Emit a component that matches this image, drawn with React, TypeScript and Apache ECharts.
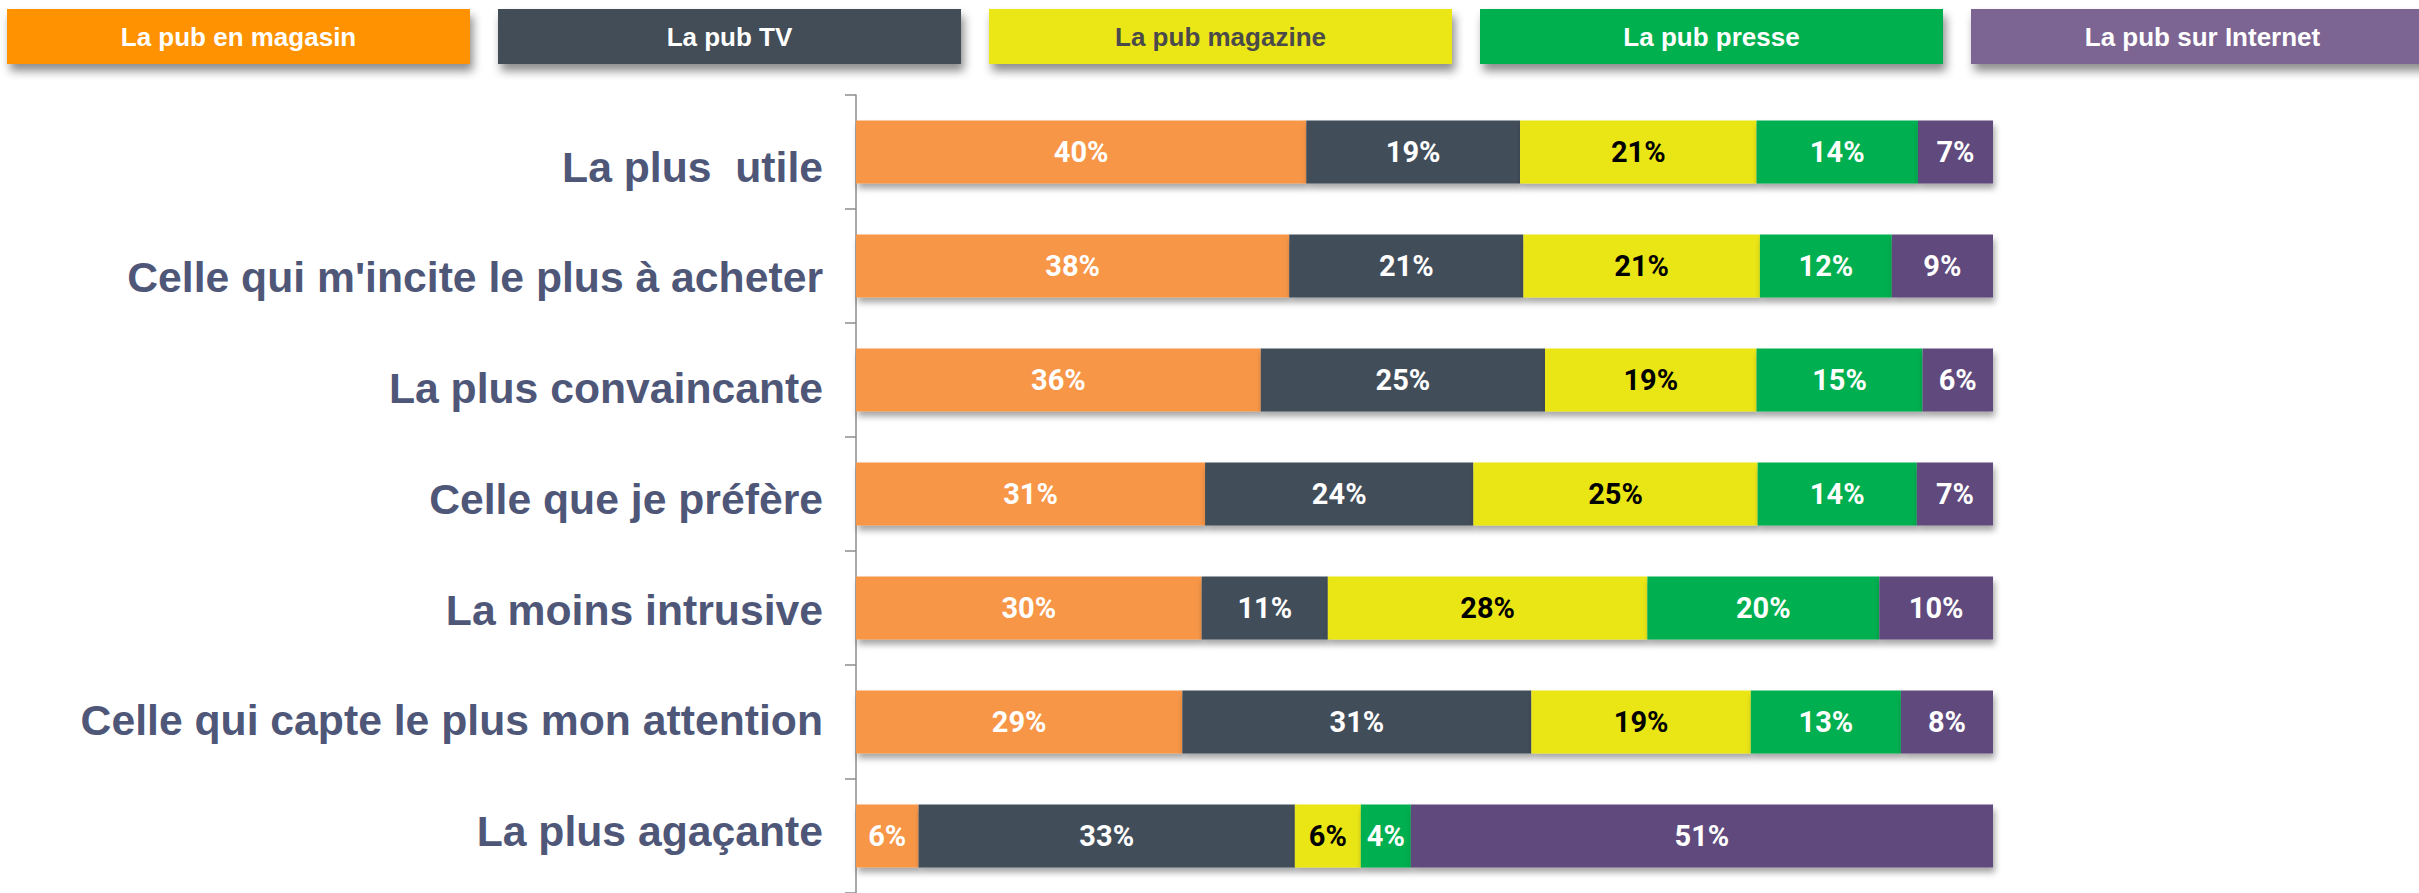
import React, { useEffect, useRef } from "react";
import * as echarts from "echarts";

const categories = [
  "La plus  utile",
  "Celle qui m'incite le plus à acheter",
  "La plus convaincante",
  "Celle que je préfère",
  "La moins intrusive",
  "Celle qui capte le plus mon attention",
  "La plus agaçante",
];

const seriesNames = [
  "La pub en magasin",
  "La pub TV",
  "La pub magazine",
  "La pub presse",
  "La pub sur Internet",
];

// shares (%); printed labels are the rounded values
const magasin = [39.6, 38.1, 35.6, 30.7, 30.4, 28.7, 5.5];
const tv = [18.8, 20.6, 25.0, 23.6, 11.1, 30.7, 33.1];
const magazine = [20.8, 20.8, 18.6, 25.0, 28.1, 19.3, 5.8];
const presse = [14.2, 11.6, 14.6, 14.0, 20.4, 13.2, 4.4];
const internet = [6.6, 8.9, 6.2, 6.7, 10.0, 8.1, 51.2];

const seriesData = [magasin, tv, magazine, presse, internet];

const barColors = ["#F79646", "#434E5A", "#EAE617", "#00AF50", "#604A7B"];
const legendColors = ["#FF9200", "#424D59", "#EBE717", "#00B050", "#7B6593"];
const barLabelColors = ["#FFFFFF", "#FFFFFF", "#000000", "#FFFFFF", "#FFFFFF"];
const legendTextColors = ["#FFFFFF", "#FFFFFF", "#4A4A4A", "#FFFFFF", "#FFFFFF"];

export default function App() {
  const ref = useRef<HTMLDivElement>(null);

  useEffect(() => {
    document.body.style.margin = "0";
    document.documentElement.style.overflow = "hidden";
    if (!ref.current) return;
    const chart = echarts.init(ref.current, undefined, { renderer: "svg" });

    const option: any = {
      animation: false,
      backgroundColor: "#FFFFFF",
      grid: [
        { left: 856, top: 95, width: 1137, height: 803, containLabel: false },
        { left: 856, top: 111.4, width: 1137, height: 775, containLabel: false },
      ],
      xAxis: [
        { type: "value", gridIndex: 0, min: 0, max: 100, show: false, splitLine: { show: false } },
        { type: "value", gridIndex: 1, min: 0, max: 100, show: false, splitLine: { show: false } },
      ],
      yAxis: [
        {
          type: "category",
          gridIndex: 0,
          data: categories,
          inverse: true,
          axisLine: { show: true, lineStyle: { color: "#8C8C8C", width: 1.5 } },
          axisTick: { show: true, length: 11, lineStyle: { color: "#8C8C8C", width: 1.5 } },
          axisLabel: { show: false },
          splitLine: { show: false },
        },
        {
          type: "category",
          gridIndex: 1,
          data: categories,
          inverse: true,
          axisLine: { show: false },
          axisTick: { show: false },
          splitLine: { show: false },
          axisLabel: {
            show: true,
            interval: 0,
            margin: 33,
            color: "#4F5779",
            fontFamily: '"Liberation Sans", Arial, sans-serif',
            fontWeight: "bold",
            fontSize: 42.7,
          },
        },
      ],
      series: seriesNames.map((name, i) => ({
        name,
        type: "bar",
        stack: "total",
        xAxisIndex: 0,
        yAxisIndex: 0,
        data: seriesData[i],
        barWidth: 63,
        itemStyle: {
          color: barColors[i],
          shadowColor: "rgba(0,0,0,0.35)",
          shadowBlur: 6,
          shadowOffsetX: 2,
          shadowOffsetY: 5,
        },
        label: {
          show: true,
          position: "inside",
          formatter: (p: any) => Math.round(p.value) + "%",
          color: barLabelColors[i],
          fontFamily: "Roboto, sans-serif",
          fontWeight: "bold",
          fontSize: 29,
        },
        emphasis: { disabled: true },
      })),
      graphic: seriesNames.map((name, i) => ({
        type: "group",
        x: 7 + 491 * i,
        y: 9,
        children: [
          {
            type: "rect",
            shape: { x: 0, y: 0, width: 463, height: 55 },
            style: {
              fill: legendColors[i],
              shadowBlur: 10,
              shadowOffsetX: 3,
              shadowOffsetY: 7,
              shadowColor: "rgba(0,0,0,0.45)",
            },
          },
          {
            type: "text",
            x: 231.5,
            y: 28,
            style: {
              text: name,
              fill: legendTextColors[i],
              font: 'bold 26px "Liberation Sans", Arial, sans-serif',
              textAlign: "center",
              align: "center",
              textVerticalAlign: "middle",
              verticalAlign: "middle",
            },
          },
        ],
      })),
    };

    chart.setOption(option);
    return () => chart.dispose();
  }, []);

  return (
    <div
      ref={ref}
      style={{ position: "absolute", left: 0, top: 0, width: 2419, height: 893 }}
    />
  );
}
